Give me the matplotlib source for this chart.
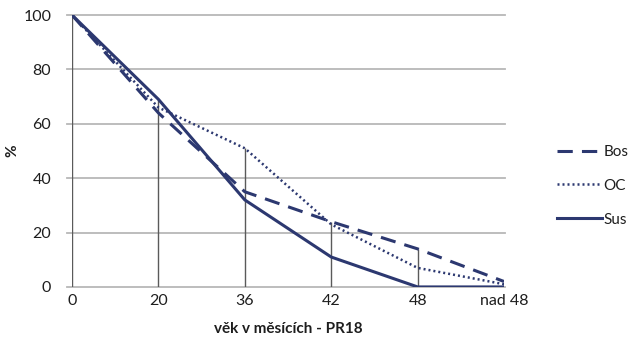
import matplotlib
matplotlib.use("Agg")
import matplotlib.pyplot as plt
import numpy as np

categories = ["0", "20", "36", "42", "48", "nad 48"]
bos = [100, 64, 35, 24, 14, 2]
oc = [100, 66, 51, 23, 7, 1]
sus = [100, 69, 32, 11, 0, 0]
y_ticks = [0, 20, 40, 60, 80, 100]

plt.rcParams['font.family'] = ['Lato', 'DejaVu Sans']
navy = '#2c3870'
text_col = '#1e1e1e'

fig = plt.figure(figsize=(6.34, 3.42), dpi=100)
ax = fig.add_axes([0.1136, 0.161, 0.795 - 0.1136, 0.956 - 0.161])

x = np.arange(len(categories))

# horizontal gridlines
for v in y_ticks:
    ax.plot([-0.06, x[-1] + 0.01], [v, v], color='#b8b8b8', lw=1.3,
            clip_on=False, zorder=1)

# drop lines from each category up to its highest value
tops = np.max([bos, oc, sus], axis=0)
ax.vlines(x, 0, tops, color='#5a5a5a', lw=1.0, zorder=2)

ax.plot(x, bos, color=navy, lw=2.2, ls=(0, (5, 3)), label='Bos', zorder=3)
ax.plot(x, oc, color=navy, lw=1.8, ls=(0, (0.8, 1.2)), label='OC', zorder=3)
ax.plot(x, sus, color=navy, lw=2.2, ls='-', label='Sus', zorder=4)

ax.set_xlim(0, x[-1])
ax.set_ylim(0, 100)
ax.set_xticks(x)
ax.set_xticklabels(categories, fontsize=11.5, color=text_col)
ax.set_yticks(y_ticks)
ax.set_yticklabels([str(v) for v in y_ticks], fontsize=11.5, color=text_col)
ax.tick_params(axis='x', length=0, pad=5)
ax.tick_params(axis='y', length=0, pad=15)
for s in ax.spines.values():
    s.set_visible(False)

ax.set_xlabel('věk v měsících - PR18', fontsize=11, fontweight='bold',
              labelpad=10, color=text_col)
ax.set_ylabel('%', fontsize=11, fontweight='bold', color=text_col)
ax.yaxis.set_label_coords(-0.122, 0.5)

leg = fig.legend(loc='upper left', bbox_to_anchor=(0.873, 0.585), frameon=False,
                 fontsize=11, handlelength=3.0, handletextpad=0.05,
                 borderpad=0.2, borderaxespad=0, labelspacing=1.3)
for t in leg.get_texts():
    t.set_color(text_col)

fig.savefig('out.png', dpi=100, facecolor='white')
